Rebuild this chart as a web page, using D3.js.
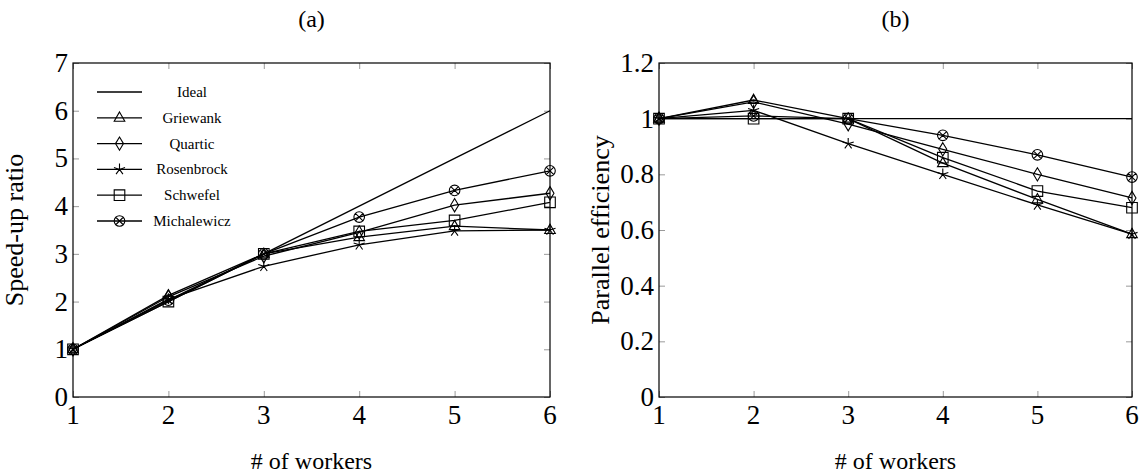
<script src="https://d3js.org/d3.v7.min.js"></script>
<style>
  body { margin: 0; background: #fff; }
  svg text { font-family: "Liberation Serif", "Times New Roman", serif !important; }
</style>
<svg id="chart" width="1145" height="475"></svg>
<script>
    var width = 1145, height = 475;

    // data
    var workers = [1, 2, 3, 4, 5, 6];
    var seriesNames = ['Ideal', 'Griewank', 'Quartic', 'Rosenbrock', 'Schwefel', 'Michalewicz'];
    var seriesMarks = ['none', 'triangle', 'diamond', 'star', 'square', 'otimes'];

    var speedIdeal = [1, 2, 3, 4, 5, 6];
    var speedGriewank = [1, 2.13, 3.0, 3.35, 3.58, 3.5];
    var speedQuartic = [1, 2.1, 2.95, 3.45, 4.02, 4.27];
    var speedRosenbrock = [1, 2.05, 2.74, 3.19, 3.48, 3.5];
    var speedSchwefel = [1, 2.0, 3.0, 3.47, 3.7, 4.08];
    var speedMichalewicz = [1, 2.03, 3.0, 3.77, 4.33, 4.74];

    var effIdeal = [1, 1, 1, 1, 1, 1];
    var effGriewank = [1, 1.067, 1.0, 0.84, 0.71, 0.585];
    var effQuartic = [1, 1.06, 0.98, 0.89, 0.80, 0.715];
    var effRosenbrock = [1, 1.03, 0.91, 0.80, 0.69, 0.585];
    var effSchwefel = [1, 1.0, 1.0, 0.86, 0.74, 0.68];
    var effMichalewicz = [1, 1.01, 1.0, 0.94, 0.87, 0.79];

    var speedTicks = [0, 1, 2, 3, 4, 5, 6, 7];
    var effTicks = [0, 0.2, 0.4, 0.6, 0.8, 1, 1.2];

    var svg = d3.select('#chart');
    var serif = "Liberation Serif";

    function markPath(type, r) {
        var p = d3.path();
        if (type == 'triangle') {
            p.moveTo(0, -r * 1.1);
            p.lineTo(r * 1.0, r * 0.65);
            p.lineTo(-r * 1.0, r * 0.65);
            p.closePath();
        } else if (type == 'diamond') {
            p.moveTo(0, -r * 1.25);
            p.lineTo(r * 0.75, 0);
            p.lineTo(0, r * 1.25);
            p.lineTo(-r * 0.75, 0);
            p.closePath();
        } else if (type == 'square') {
            p.rect(-r, -r, 2 * r, 2 * r);
        } else if (type == 'star') {
            for (var k = 0; k < 5; k++) {
                var a = -Math.PI / 2 + k * 2 * Math.PI / 5;
                p.moveTo(0, 0);
                p.lineTo(r * 1.1 * Math.cos(a), r * 1.1 * Math.sin(a));
            }
        } else if (type == 'otimes') {
            p.moveTo(r, 0);
            p.arc(0, 0, r, 0, 2 * Math.PI);
            var d = r * 0.7071;
            p.moveTo(-d, -d); p.lineTo(d, d);
            p.moveTo(-d, d); p.lineTo(d, -d);
        }
        return p.toString();
    }

    function drawPanel(opts) {
        var x = d3.scaleLinear().domain([1, 6]).range([opts.left, opts.right]);
        var y = d3.scaleLinear().domain(opts.yDomain).range([397, 63]);
        var g = svg.append('g');

        // inward ticks on all four sides
        var tickColor = '#9a9a9a', tl = 6;
        g.append('g').attr('transform', `translate(0,397)`)
            .call(d3.axisBottom(x).tickValues(workers).tickSize(-tl).tickFormat(''))
            .call(a => a.select('.domain').remove())
            .selectAll('line').attr('stroke', tickColor);
        g.append('g').attr('transform', `translate(0,63)`)
            .call(d3.axisTop(x).tickValues(workers).tickSize(-tl).tickFormat(''))
            .call(a => a.select('.domain').remove())
            .selectAll('line').attr('stroke', tickColor);
        g.append('g').attr('transform', `translate(${opts.left},0)`)
            .call(d3.axisLeft(y).tickValues(opts.yTicks).tickSize(-tl).tickFormat(''))
            .call(a => a.select('.domain').remove())
            .selectAll('line').attr('stroke', tickColor);
        g.append('g').attr('transform', `translate(${opts.right},0)`)
            .call(d3.axisRight(y).tickValues(opts.yTicks).tickSize(-tl).tickFormat(''))
            .call(a => a.select('.domain').remove())
            .selectAll('line').attr('stroke', tickColor);

        // tick labels
        g.selectAll('.xl').data(workers).join('text')
            .attr('font-family', serif)
            .attr('x', d => x(d)).attr('y', 424)
            .attr('text-anchor', 'middle').attr('font-size', 27)
            .text(d => d);
        g.selectAll('.yl').data(opts.yTicks).join('text')
            .attr('font-family', serif)
            .attr('x', opts.left - 5).attr('y', d => y(d) + 9)
            .attr('text-anchor', 'end').attr('font-size', 27)
            .text(d => d);

        // frame
        g.append('rect')
            .attr('x', opts.left).attr('y', 63)
            .attr('width', opts.right - opts.left).attr('height', 334)
            .attr('fill', 'none').attr('stroke', '#000').attr('stroke-width', 1.2);

        var line = d3.line().x((d, i) => x(workers[i])).y(d => y(d));

        opts.series.forEach(function(vals, si) {
            g.append('path').datum(vals)
                .attr('d', line)
                .attr('fill', 'none').attr('stroke', '#000').attr('stroke-width', 1.3);
        });
        opts.series.forEach(function(vals, si) {
            if (seriesMarks[si] == 'none') return;
            g.selectAll(null).data(vals).join('path')
                .attr('transform', (d, i) => `translate(${x(workers[i])},${y(d)})`)
                .attr('d', markPath(seriesMarks[si], 5.3))
                .attr('fill', 'none').attr('stroke', '#000').attr('stroke-width', 1.1);
        });

        // titles
        svg.append('text').attr('font-family', serif)
            .attr('x', (opts.left + opts.right) / 2).attr('y', 27)
            .attr('text-anchor', 'middle').attr('font-size', 24)
            .text(opts.title);
        svg.append('text').attr('font-family', serif)
            .attr('x', (opts.left + opts.right) / 2).attr('y', 469)
            .attr('text-anchor', 'middle').attr('font-size', 24)
            .text('# of workers');
        svg.append('text').attr('font-family', serif)
            .attr('transform', `translate(${opts.left - 50},230) rotate(-90)`)
            .attr('text-anchor', 'middle').attr('font-size', 26)
            .text(opts.yLabel);

        return g;
    }

    var left = drawPanel({
        left: 73, right: 550,
        yDomain: [0, 7], yTicks: speedTicks,
        series: [speedIdeal, speedGriewank, speedQuartic, speedRosenbrock, speedSchwefel, speedMichalewicz],
        title: '(a)', yLabel: 'Speed-up ratio'
    });
    drawPanel({
        left: 659, right: 1132,
        yDomain: [0, 1.2], yTicks: effTicks,
        series: [effIdeal, effGriewank, effQuartic, effRosenbrock, effSchwefel, effMichalewicz],
        title: '(b)', yLabel: 'Parallel efficiency'
    });

    // legend
    var lg = left.append('g');
    seriesNames.forEach(function(name, i) {
        var yy = 92 + i * 25.8;
        lg.append('line').attr('x1', 97).attr('x2', 142).attr('y1', yy).attr('y2', yy)
            .attr('stroke', '#000').attr('stroke-width', 1.3);
        if (seriesMarks[i] != 'none')
            lg.append('path').attr('transform', `translate(119.5,${yy})`)
                .attr('d', markPath(seriesMarks[i], 5.3))
                .attr('fill', 'none').attr('stroke', '#000').attr('stroke-width', 1.1);
        lg.append('text').attr('font-family', serif).attr('x', 192).attr('y', yy + 5)
            .attr('text-anchor', 'middle').attr('font-size', 15)
            .text(name);
    });
</script>
